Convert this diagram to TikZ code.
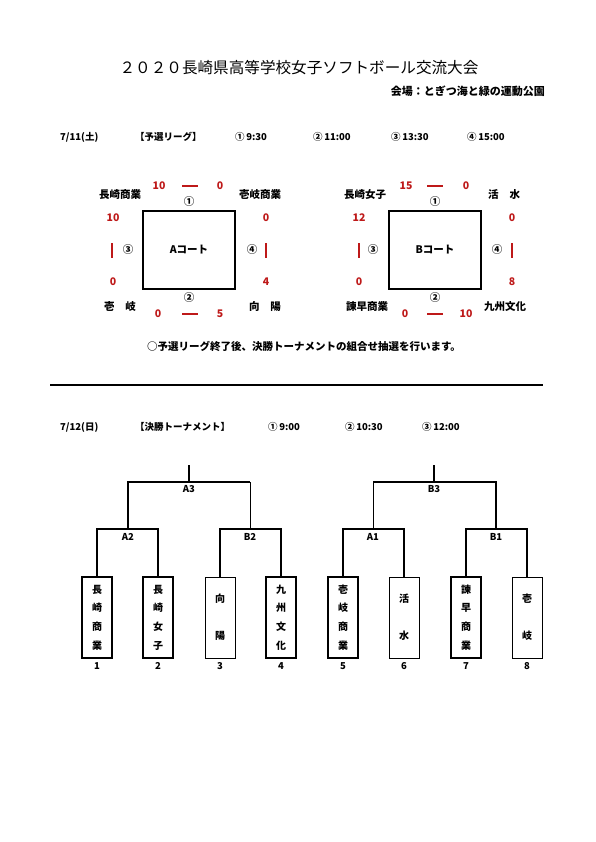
\documentclass[tikz,border=0pt]{standalone}
\usepackage{fontspec}
\setmainfont{Noto Sans CJK JP}
\usetikzlibrary{positioning}
\definecolor{scorered}{RGB}{190,25,25}
\tikzset{
  lbl/.style={font=\fontsize{10.5}{12}\selectfont\bfseries,inner sep=0pt},
  head/.style={font=\fontsize{9.5}{11}\selectfont\bfseries,inner sep=0pt,anchor=west},
  score/.style={lbl,text=scorered},
  gamemark/.style={font=\fontsize{10.5}{11}\selectfont\bfseries,inner sep=0pt},
  rdash/.style={draw=scorered,line width=1.5pt},
  court/.style={draw,line width=1.3pt,minimum width=92pt,minimum height=78pt,inner sep=0pt,font=\fontsize{10.5}{12}\selectfont\bfseries},
  team/.style={draw,line width=1.5pt,minimum width=30pt,minimum height=81pt,inner sep=0pt,align=center,font=\fontsize{10}{18.7}\selectfont\bfseries},
  teamthin/.style={team,line width=0.7pt},
  teamtwo/.style={font=\fontsize{10}{37}\selectfont\bfseries},
  num/.style={font=\fontsize{9.5}{11}\selectfont\bfseries,inner sep=0pt},
  roundlbl/.style={font=\fontsize{9.5}{11}\selectfont\bfseries,inner sep=0pt},
  win/.style={line width=1.5pt},
  lose/.style={line width=0.7pt}
}

\begin{document}
\begin{tikzpicture}[x=1pt,y=-1pt]
\useasboundingbox (0,0) rectangle (595,842);
% title
\node[font=\fontsize{15.6}{17}\selectfont,inner sep=0pt] (title) at (299,68) {２０２０長崎県高等学校女子ソフトボール交流大会};
\node[font=\fontsize{11}{12}\selectfont\bfseries,inner sep=0pt,anchor=east] (venue) at (545,91) {会場：とぎつ海と緑の運動公園};

% day 1
\node[head] (day1) at (60,137) {7/11(土)};
\node[head] (league) at (135,137) {【予選リーグ】};
\node[head] (t1a) at (235,137) {①\,9:30};
\node[head] (t1b) at (313,137) {②\,11:00};
\node[head] (t1c) at (391,137) {③\,13:30};
\node[head] (t1d) at (467,137) {④\,15:00};

% court A
\node[court] (courtA) at (189,250) {Aコート};
\node[lbl] (a1) at (120,195) {長崎商業};
\node[lbl] (a2) at (260,195) {壱岐商業};
\node[lbl] (a3) at (120,307) {壱\hspace{11pt}岐};
\node[lbl] (a4) at (265,307) {向\hspace{11pt}陽};
\node[score] (sa1l) at (159,186) {10};
\node[score] (sa1r) at (220,186) {0};
\draw[rdash] (182,186) -- (198,186);
\node[gamemark] (ma1) at (189,202) {①};
\node[score] (sa3t) at (113,218) {10};
\node[score] (sa3b) at (113,282) {0};
\draw[rdash] (112,243) -- (112,258);
\node[gamemark] (ma3) at (128,250) {③};
\node[score] (sa4t) at (266,218) {0};
\node[score] (sa4b) at (266,282) {4};
\draw[rdash] (266,243) -- (266,258);
\node[gamemark] (ma4) at (252,250) {④};
\node[gamemark] (ma2) at (189,298) {②};
\node[score] (sa2l) at (158,314) {0};
\node[score] (sa2r) at (220,314) {5};
\draw[rdash] (182,314) -- (198,314);

% court B
\node[court] (courtB) at (435,250) {Bコート};
\node[lbl] (b1) at (365,195) {長崎女子};
\node[lbl] (b2) at (504,195) {活\hspace{11pt}水};
\node[lbl] (b3) at (367,307) {諫早商業};
\node[lbl] (b4) at (505,307) {九州文化};
\node[score] (sb1l) at (406,186) {15};
\node[score] (sb1r) at (466,186) {0};
\draw[rdash] (427,186) -- (443,186);
\node[gamemark] (mb1) at (435,202) {①};
\node[score] (sb3t) at (359,218) {12};
\node[score] (sb3b) at (359,282) {0};
\draw[rdash] (359,243) -- (359,258);
\node[gamemark] (mb3) at (373,250) {③};
\node[score] (sb4t) at (512,218) {0};
\node[score] (sb4b) at (512,282) {8};
\draw[rdash] (512,243) -- (512,258);
\node[gamemark] (mb4) at (497,250) {④};
\node[gamemark] (mb2) at (435,298) {②};
\node[score] (sb2l) at (405,314) {0};
\node[score] (sb2r) at (466,314) {10};
\draw[rdash] (427,314) -- (443,314);

\node[lbl] (note) at (304,346) {○予選リーグ終了後、決勝トーナメントの組合せ抽選を行います。};

\draw[line width=1.5pt] (50,385) -- (543,385);

% day 2
\node[head] (day2) at (60,427) {7/12(日)};
\node[head] (final) at (135,427) {【決勝トーナメント】};
\node[head] (t2a) at (268,427) {①\,9:00};
\node[head] (t2b) at (345,427) {②\,10:30};
\node[head] (t2c) at (422,427) {③\,12:00};

% teams
\node[team] (tm1) at (97,617.5) {長\\崎\\商\\業};
\node[team] (tm2) at (158,617.5) {長\\崎\\女\\子};
\node[teamthin,teamtwo] (tm3) at (220,617.5) {向\\陽};
\node[team] (tm4) at (281,617.5) {九\\州\\文\\化};
\node[team] (tm5) at (343,617.5) {壱\\岐\\商\\業};
\node[teamthin,teamtwo] (tm6) at (404,617.5) {活\\水};
\node[team] (tm7) at (466,617.5) {諫\\早\\商\\業};
\node[teamthin,teamtwo] (tm8) at (527,617.5) {壱\\岐};
\node[num] (n1) at (97,666) {1};
\node[num] (n2) at (158,666) {2};
\node[num] (n3) at (220,666) {3};
\node[num] (n4) at (281,666) {4};
\node[num] (n5) at (343,666) {5};
\node[num] (n6) at (404,666) {6};
\node[num] (n7) at (466,666) {7};
\node[num] (n8) at (527,666) {8};

% bracket
\coordinate (qA2) at (128,529);
\coordinate (qB2) at (250,529);
\coordinate (qA1) at (373,529);
\coordinate (qB1) at (496,529);
\coordinate (qA3) at (189,482);
\coordinate (qB3) at (434,482);
\coordinate (topA) at (189,465);
\coordinate (topB) at (434,465);
\draw[win] (tm1.north) |- (tm2.north |- qA2) -- (tm2.north);
\draw[win] (tm3.north) |- (tm4.north |- qB2) -- (tm4.north);
\draw[win] (tm5.north) |- (tm6.north |- qA1) -- (tm6.north);
\draw[win] (tm7.north) |- (tm8.north |- qB1) -- (tm8.north);
\draw[win] (qA2) -- (qA2 |- qA3) -- (qB2 |- qA3);
\draw[lose] (qB2) -- (qB2 |- qA3);
\draw[win] (qA3) -- (topA);
\draw[win] (qB1) -- (qB1 |- qB3) -- (qA1 |- qB3);
\draw[lose] (qA1) -- (qA1 |- qB3);
\draw[win] (qB3) -- (topB);
\node[roundlbl] (rA3) at (189,489) {A3};
\node[roundlbl] (rB3) at (434,489) {B3};
\node[roundlbl] (rA2) at (128,537) {A2};
\node[roundlbl] (rB2) at (250,537) {B2};
\node[roundlbl] (rA1) at (373,537) {A1};
\node[roundlbl] (rB1) at (496,537) {B1};
\end{tikzpicture}
\end{document}
